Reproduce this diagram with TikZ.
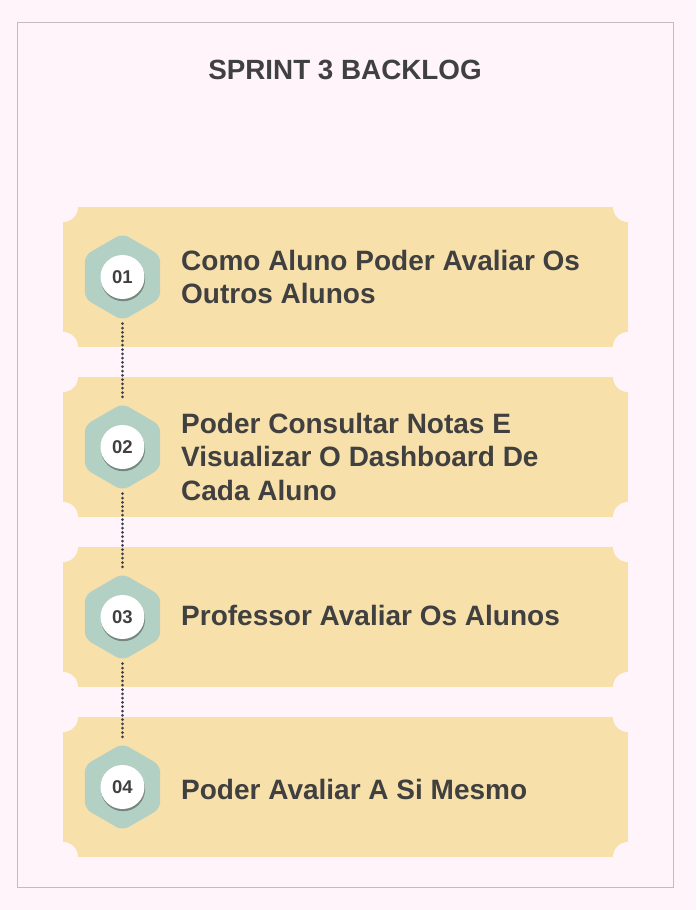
\documentclass[tikz,border=0pt]{standalone}
\usepackage{fontspec}
\setmainfont{Liberation Sans}
\usetikzlibrary{shapes.geometric,shadows}
\definecolor{bgpink}{HTML}{FEF4FA}
\definecolor{framecol}{HTML}{C8B8C0}
\definecolor{cardcol}{HTML}{F8E0AA}
\definecolor{hexcol}{HTML}{B3D0C5}
\definecolor{txtcol}{HTML}{404040}
\definecolor{dotcol}{HTML}{3F3F4A}
\newcommand{\itemlines}[1]{\begin{tabular}[t]{@{}l@{}}#1\end{tabular}}
\tikzset{
  cardbox/.style={fill=cardcol, draw=none},
  notch/.style={fill=bgpink, draw=none},
  hexnode/.style={regular polygon, regular polygon sides=6, shape border rotate=30,
    minimum size=87pt, inner sep=0pt, fill=hexcol, rounded corners=7pt},
  numnode/.style={circle, fill=white, minimum size=44pt, inner sep=0pt,
    font=\bfseries\fontsize{18.5}{18.5}\selectfont, text=txtcol,
    drop shadow={shadow xshift=0.6pt, shadow yshift=-2.2pt, opacity=0.35, fill=black}},
  itemtext/.style={anchor=base west, inner sep=0pt, text=txtcol,
    font=\bfseries\fontsize{28}{33.5}\selectfont},
  dotline/.style={dotcol, line width=3pt, line cap=round, dash pattern=on 0pt off 4.3pt}
}
\begin{document}
\begin{tikzpicture}[x=1pt,y=-1pt]
\useasboundingbox (0,0) rectangle (696,910);
\fill[bgpink] (0,0) rectangle (696,910);
\draw[framecol, line width=1.8pt] (17.5,22.5) rectangle (673.5,887.5);
\node[anchor=base, inner sep=0pt, text=txtcol, font=\bfseries\fontsize{27.8}{27.8}\selectfont] (title) at (345,79.5) {SPRINT 3 BACKLOG};
% cards
\foreach \i/\yt in {1/207,2/377,3/547,4/717}{
  \fill[cardbox] (63,\yt) rectangle (628,\yt+140);
  \fill[notch] (63,\yt) circle (15);
  \fill[notch] (628,\yt) circle (15);
  \fill[notch] (63,\yt+140) circle (15);
  \fill[notch] (628,\yt+140) circle (15);
}
% hexagons
\node[hexnode] (h1) at (122.5,277) {};
\node[hexnode] (h2) at (122.5,447) {};
\node[hexnode] (h3) at (122.5,617) {};
\node[hexnode] (h4) at (122.5,787) {};
\draw[dotline] ([yshift=-3pt]h1.south) -- ([yshift=3pt]h2.north);
\draw[dotline] ([yshift=-3pt]h2.south) -- ([yshift=3pt]h3.north);
\draw[dotline] ([yshift=-3pt]h3.south) -- ([yshift=3pt]h4.north);
\node[numnode] (n1) at (h1.center) {01};
\node[numnode] (n2) at (h2.center) {02};
\node[numnode] (n3) at (h3.center) {03};
\node[numnode] (n4) at (h4.center) {04};
% texts
\node[itemtext] (t1) at (181,270) {\itemlines{Como Aluno Poder Avaliar Os\\Outros Alunos}};
\node[itemtext] (t2) at (181,433) {\itemlines{Poder Consultar Notas E\\Visualizar O Dashboard De\\Cada Aluno}};
\node[itemtext] (t3) at (181,625) {Professor Avaliar Os Alunos};
\node[itemtext] (t4) at (181,799) {Poder Avaliar A Si Mesmo};
\end{tikzpicture}
\end{document}
